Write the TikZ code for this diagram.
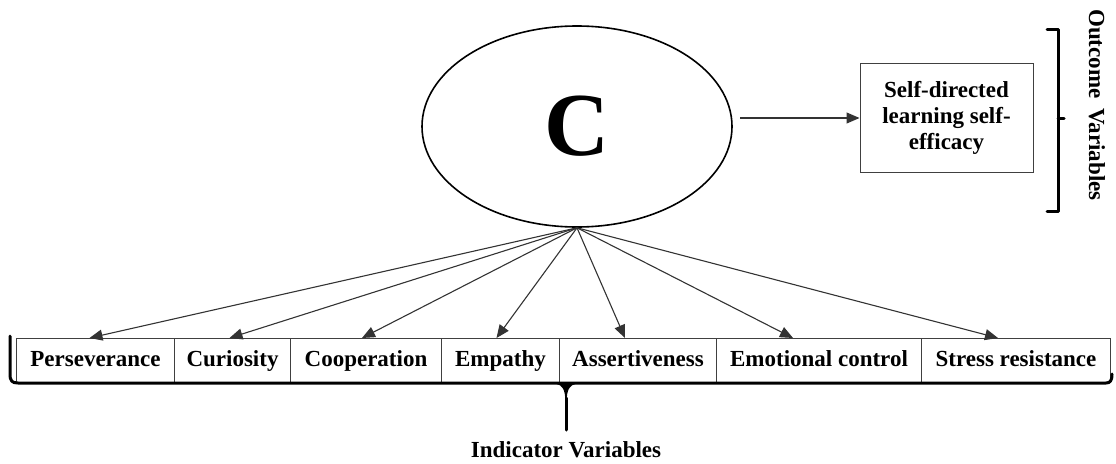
\documentclass[tikz,border=0pt]{standalone}
\usepackage{fontspec}
\setmainfont{Liberation Serif}
\usetikzlibrary{shapes.geometric,arrows.meta,calc}
\begin{document}
\begin{tikzpicture}[x=1pt,y=-1pt,
  every node/.style={font=\bfseries\fontsize{23}{26}\selectfont},
  cell/.style={draw=black!75,line width=1pt,rectangle,minimum height=44pt,inner sep=0pt,text height=16pt,text depth=5pt,anchor=north west},
  conn/.style={draw=black!80,line width=1.1pt,-{Triangle[length=13pt,width=11pt]}},
  brace/.style={draw=black,line width=3pt,line cap=round,line join=round}]
\useasboundingbox (0,0) rectangle (1116,463);
% latent
\node[draw,ellipse,line width=1.6pt,minimum width=310pt,minimum height=201pt,inner sep=0pt] (C) at (577,126.5) {\fontsize{90}{90}\selectfont C};
% outcome
\node[draw=black!75,line width=1pt,rectangle,minimum width=173pt,minimum height=109pt,align=center,inner sep=0pt] (box) at (946.5,117.5) {Self-directed\\learning self-\\efficacy};
\coordinate (cs) at (740,118);
\draw[conn] (cs) -- (box.west |- cs);
% indicators
\node[cell,minimum width=158pt] (p1) at (16,338) {Perseverance};
\node[cell,minimum width=116pt] (p2) at (174,338) {Curiosity};
\node[cell,minimum width=151pt] (p3) at (290,338) {Cooperation};
\node[cell,minimum width=118pt] (p4) at (441,338) {Empathy};
\node[cell,minimum width=157pt] (p5) at (559,338) {Assertiveness};
\node[cell,minimum width=205pt] (p6) at (716,338) {Emotional control};
\node[cell,minimum width=189pt] (p7) at (921,338) {Stress resistance};
\draw[conn] (C.south) -- ([xshift=-6pt]p1.north);
\draw[conn] (C.south) -- ([xshift=-3pt]p2.north);
\draw[conn] (C.south) -- ([xshift=-4pt]p3.north);
\draw[conn] (C.south) -- ([xshift=-4pt]p4.north);
\draw[conn] (C.south) -- ([xshift=-13pt]p5.north);
\draw[conn] (C.south) -- ([xshift=-26pt]p6.north);
\draw[conn] (C.south) -- ([xshift=-18pt]p7.north);
% right bracket
\draw[brace] (1047,29) -- (1058,29) -- (1058,211) -- (1047,211);
\draw[brace] (1058,118) -- (1064,118);
\node[rotate=-90] (ov) at (1097,105) {Outcome\, Variables};
% bottom bracket
\draw[brace] (10,336) -- (10,374) .. controls (10,381) and (12,383) .. (18,383) -- (1106,383) .. controls (1110,383) and (1112,381) .. (1112,374);
\draw[draw=black,line width=1.5pt,fill=black] (556,383) .. controls (563,384) and (566,390) .. (566,400) .. controls (566,390) and (569,384) .. (576,383) -- cycle;
\draw[brace] (566,398) -- (566,430);
\node (iv) at (566,450) {Indicator Variables};
\end{tikzpicture}
\end{document}
